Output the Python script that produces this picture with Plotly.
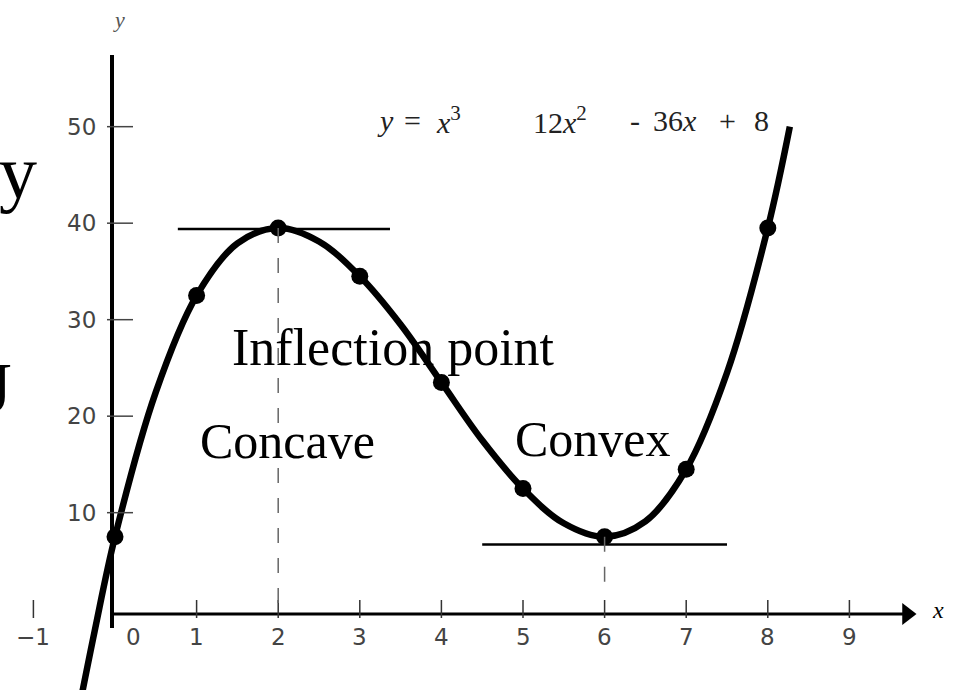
import plotly.graph_objects as go

# ---------------- data ----------------
# smooth curve y = x^3 - 12x^2 + 36x + 8
curve_x = [-0.55, -0.25, 0, 0.5, 1, 1.5, 2, 2.5, 3, 3.5, 4, 4.5, 5, 5.5, 6, 6.5, 7, 7.5, 8, 8.27]
curve_y = [-14.5, -1.8, 8, 23, 33, 38.4, 40, 38.6, 35, 30, 24, 18, 13, 9.4, 8, 9.6, 15, 25, 40, 50.5]

# highlighted points
pt_x = [0, 1, 2, 3, 4, 5, 6, 7, 8]
pt_y = [8, 33, 40, 35, 24, 13, 8, 15, 40]

# stationary points (horizontal tangents)
max_x, max_y = 2, 40
min_x, min_y = 6, 8
tan_max = [0.77, 3.37]
tan_min = [4.5, 7.5]

x_ticks = [-1, 1, 2, 3, 4, 5, 6, 7, 8, 9]
x_tick_labels = ["\u22121", "1", "2", "3", "4", "5", "6", "7", "8", "9"]
zero_label = "0"
y_ticks = [10, 20, 30, 40, 50]
y_tick_labels = ["10", "20", "30", "40", "50"]

# formula pieces as printed (some signs faded in the scan)
formula_tokens = ["<i>y</i>", "=", "<i>x</i><sup>3</sup>", "12<i>x</i><sup>2</sup>",
                  "-", "36<i>x</i>", "+", "8"]
formula_left_px = [375, 402, 434, 531, 628, 651, 717, 752]

# ---------------- geometry ----------------
W, H = 955, 690
X0PX, Y0PX = 115, 614      # pixel of data origin
SX, SY = 81.6, 9.65        # px per unit

def dx(px):
    return (px - X0PX) / SX

def dy(py):
    return (Y0PX - py) / SY

def px_paper(px):
    return px / W

def py_paper(py):
    return 1 - py / H

x_range = [dx(0), dx(W)]
y_range = [dy(H), dy(0)]

fig = go.Figure()

# curve
fig.add_trace(go.Scatter(x=curve_x, y=curve_y, mode="lines",
                         line=dict(color="black", width=6.5, shape="spline", smoothing=1.0),
                         hoverinfo="skip", showlegend=False))
# points
fig.add_trace(go.Scatter(x=pt_x, y=pt_y, mode="markers",
                         marker=dict(color="black", size=17),
                         showlegend=False))

shapes = []
# y axis
shapes.append(dict(type="line", x0=dx(112), x1=dx(112), y0=dy(628), y1=dy(55),
                   line=dict(color="black", width=4)))
# x axis
shapes.append(dict(type="line", x0=dx(112), x1=dx(903), y0=0, y1=0,
                   line=dict(color="black", width=3)))
# x tick marks
for t in x_ticks:
    shapes.append(dict(type="line", x0=t, x1=t, y0=dy(618), y1=dy(600),
                       line=dict(color="#333", width=1.5)))
# y tick marks
for t in y_ticks:
    shapes.append(dict(type="line", x0=dx(107), x1=dx(133), y0=t + 0.5, y1=t + 0.5,
                       line=dict(color="#444", width=1.5)))
# tangents
shapes.append(dict(type="line", x0=tan_max[0], x1=tan_max[1], y0=max_y - 0.1, y1=max_y - 0.1,
                   line=dict(color="black", width=2.5)))
shapes.append(dict(type="line", x0=tan_min[0], x1=tan_min[1], y0=min_y - 0.8, y1=min_y - 0.8,
                   line=dict(color="black", width=2.5)))
# dashed verticals
shapes.append(dict(type="line", x0=max_x, x1=max_x, y0=max_y, y1=0,
                   line=dict(color="#666", width=1.5, dash="longdash")))
shapes.append(dict(type="line", x0=min_x, x1=min_x, y0=min_y, y1=dy(592),
                   line=dict(color="#666", width=1.5, dash="longdash")))

# arrow head of x axis
fig.add_trace(go.Scatter(x=[dx(907)], y=[0], mode="markers",
                         marker=dict(symbol="triangle-right", size=19, color="black"),
                         showlegend=False, hoverinfo="skip"))

ann = []
tick_font = dict(family="DejaVu Sans", size=23, color="#444")
for t, lab in zip(x_ticks, x_tick_labels):
    ann.append(dict(x=t, y=dy(637), text=lab, showarrow=False, font=tick_font,
                    xanchor="center", yanchor="middle"))
ann.append(dict(x=0.23, y=dy(637), text=zero_label, showarrow=False, font=tick_font,
                xanchor="center", yanchor="middle"))
for t, lab in zip(y_ticks, y_tick_labels):
    ann.append(dict(x=dx(98), y=t + 0.5, text=lab, showarrow=False, font=tick_font,
                    xanchor="right", yanchor="middle"))

serif = "Liberation Serif"
# axis letters
ann.append(dict(x=dx(119), y=dy(19), text="<i>y</i>", showarrow=False,
                font=dict(family=serif, size=22, color="#555")))
ann.append(dict(x=dx(938), y=dy(610), text="<i>x</i>", showarrow=False,
                font=dict(family=serif, size=24, color="black")))

# formula, token by token
for tok, lpx in zip(formula_tokens, formula_left_px):
    ann.append(dict(x=dx(lpx), y=dy(120), xanchor="left", yanchor="middle", text=tok,
                    showarrow=False, font=dict(family=serif, size=30, color="#222")))

# big labels
ann.append(dict(x=dx(393), y=dy(347), text="Inflection point", showarrow=False,
                font=dict(family=serif, size=52, color="black")))
ann.append(dict(x=dx(287), y=dy(441), text="Concave", showarrow=False,
                font=dict(family=serif, size=50, color="black")))
ann.append(dict(x=dx(593), y=dy(439), text="Convex", showarrow=False,
                font=dict(family=serif, size=50, color="black")))

# slide text fragments at the left edge (paper coordinates)
ann.append(dict(xref="paper", yref="paper", x=px_paper(-3), y=py_paper(172), text="y",
                showarrow=False, xanchor="left", yanchor="middle",
                font=dict(family=serif, size=76, color="black")))
ann.append(dict(xref="paper", yref="paper", x=px_paper(-18), y=py_paper(388), text="J",
                showarrow=False, xanchor="left", yanchor="middle",
                font=dict(family=serif, size=71, color="black")))

fig.update_layout(
    width=W, height=H,
    margin=dict(l=0, r=0, t=0, b=0),
    paper_bgcolor="white", plot_bgcolor="white",
    xaxis=dict(range=x_range, visible=False, fixedrange=True),
    yaxis=dict(range=y_range, visible=False, fixedrange=True),
    shapes=shapes, annotations=ann, showlegend=False,
)

fig.write_html("out.html", config={"displayModeBar": False},
               post_script="document.body.style.margin='0';document.body.style.overflow='hidden';")
